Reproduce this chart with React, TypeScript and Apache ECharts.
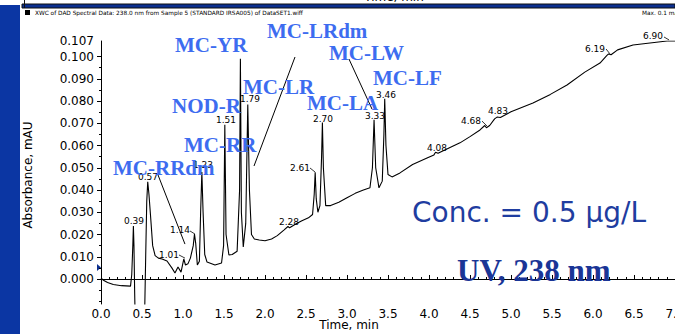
import React, { useEffect, useRef } from 'react';
import * as echarts from 'echarts';

// ---- Data ----
const timeMin = [
  0.0, 0.03, 0.08, 0.15, 0.25, 0.36, 0.375, 0.388, 0.395, 0.402, 0.41, 0.418, 0.53, 0.545, 0.558, 0.57,
  0.585, 0.605, 0.63, 0.66, 0.7, 0.745, 0.805, 0.866, 0.902, 0.939, 0.976, 1.01, 1.03, 1.06, 1.09,
  1.125, 1.14, 1.155, 1.175, 1.2, 1.215, 1.23, 1.245, 1.265, 1.293, 1.39, 1.47, 1.495, 1.51, 1.525,
  1.56, 1.6, 1.66, 1.69, 1.7, 1.712, 1.735, 1.765, 1.79, 1.81, 1.835, 1.87, 1.93, 2.0, 2.08, 2.15,
  2.23, 2.28, 2.3, 2.38, 2.45, 2.53, 2.58, 2.6, 2.612, 2.625, 2.645, 2.67, 2.69, 2.7, 2.712, 2.74,
  2.8, 2.9, 3.0, 3.1, 3.2, 3.28, 3.31, 3.33, 3.35, 3.39, 3.43, 3.45, 3.46, 3.475, 3.5, 3.549, 3.646,
  3.8, 3.976, 4.06, 4.08, 4.11, 4.25, 4.378, 4.5, 4.622, 4.68, 4.7, 4.74, 4.8, 4.83, 4.87, 5.0,
  5.268, 5.48, 5.683, 5.9, 6.085, 6.17, 6.19, 6.22, 6.3, 6.488, 6.695, 6.902, 7.0,
];
const absorbance = [
  0.0005, -0.0006, -0.0016, -0.0025, -0.003, -0.0032, 0.002, 0.015, 0.0238, 0.015, -0.005, -0.02, -0.02,
  0.01, 0.035, 0.0437, 0.038, 0.028, 0.015, 0.0105, 0.0094, 0.009, 0.0081, 0.0049, 0.0027, 0.0054,
  0.0031, 0.009, 0.0063, 0.0068, 0.0094, 0.015, 0.0202, 0.016, 0.0063, 0.008, 0.03, 0.0481, 0.03,
  0.011, 0.0076, 0.0063, 0.0072, 0.015, 0.0694, 0.02, 0.0108, 0.011, 0.0125, 0.04, 0.099, 0.03,
  0.0144, 0.025, 0.0784, 0.04, 0.02, 0.018, 0.0175, 0.0172, 0.018, 0.0195, 0.022, 0.0236, 0.023,
  0.0248, 0.0262, 0.0275, 0.029, 0.038, 0.048, 0.036, 0.03, 0.033, 0.055, 0.0703, 0.05, 0.033,
  0.033, 0.0345, 0.0365, 0.0385, 0.04, 0.041, 0.05, 0.0716, 0.05, 0.041, 0.044, 0.065, 0.081, 0.06,
  0.047, 0.0459, 0.0477, 0.0515, 0.0544, 0.0558, 0.057, 0.0565, 0.059, 0.0612, 0.064, 0.067, 0.069,
  0.068, 0.069, 0.072, 0.0728, 0.0726, 0.0752, 0.0791, 0.083, 0.0872, 0.093, 0.0971, 0.1005, 0.1012,
  0.1008, 0.103, 0.1052, 0.1061, 0.107, 0.107,
];

const yMajorTicks = [0, 0.01, 0.02, 0.03, 0.04, 0.05, 0.06, 0.07, 0.08, 0.09, 0.1];
const yLabelTicks = [0, 0.01, 0.02, 0.03, 0.04, 0.05, 0.06, 0.07, 0.08, 0.09, 0.1, 0.107];
const yMinorTicks = [-0.01, -0.005, 0.005, 0.015, 0.025, 0.035, 0.045, 0.055, 0.065, 0.075, 0.085, 0.095];

const peakLabels = ['0.39', '0.57', '1.01', '1.14', '1.23', '1.51', '1.79', '2.28', '2.61', '2.70', '3.33', '3.46', '4.08', '4.68', '4.83', '6.19', '6.90'];
const peakLabelTime = [0.402, 0.573, 0.829, 0.963, 1.244, 1.524, 1.817, 2.293, 2.427, 2.707, 3.341, 3.476, 4.098, 4.512, 4.841, 6.024, 6.732];
const peakLabelAbs = [0.0261, 0.0459, 0.0108, 0.022, 0.0513, 0.0715, 0.0809, 0.0256, 0.0499, 0.0719, 0.0733, 0.0827, 0.0589, 0.071, 0.0755, 0.1034, 0.1093];

// small connectors beside some peak labels: [t1, v1, t2, v2]
const labelConnectors = [
  [0.951, 0.0108, 1.024, 0.0094],
  [1.085, 0.0216, 1.146, 0.0202],
  [2.549, 0.0499, 2.61, 0.0481],
  [4.646, 0.071, 4.707, 0.0688],
  [6.159, 0.1034, 6.207, 0.1012],
  [6.866, 0.1088, 6.927, 0.1075],
];

const compounds = ['MC-YR', 'MC-LRdm', 'MC-LW', 'MC-LF', 'MC-LR', 'MC-LA', 'NOD-R', 'MC-RR', 'MC-RRdm'];
// leader lines for compound names: [t1, v1, t2, v2]
const compoundLeaders = [
  [0.695, 0.0468, 1.024, 0.0157],
  [2.366, 0.0998, 1.866, 0.0508],
  [3.024, 0.0989, 3.305, 0.0764],
];

// ---- Layout (pixels) ----
const compoundPos = [
  [175, 45], [267, 31], [329, 53], [373, 78], [243, 87], [307, 103], [172, 106], [184, 145], [113, 168],
];

const SANS = 'DejaVu Sans';
const SERIF = 'Liberation Serif';

export default function App() {
  const ref = useRef<HTMLDivElement>(null);

  useEffect(() => {
    if (!ref.current) return;
    const chart = echarts.init(ref.current, undefined, { renderer: 'svg' });
    const yMin = -0.01124;
    const yMax = 0.107;
    chart.setOption({
      animation: false,
      backgroundColor: '#ffffff',
      grid: { left: 101, right: 0, top: 41, bottom: 30, containLabel: false, outerBoundsMode: 'none' },
      xAxis: {
        type: 'value',
        min: 0,
        max: 7,
        interval: 0.5,
        axisLine: { lineStyle: { color: '#000', width: 1 } },
        axisTick: { inside: true, length: 4, lineStyle: { color: '#000' } },
        minorTick: { show: true, splitNumber: 5, length: 2, lineStyle: { color: '#000' } },
        splitLine: { show: false },
        axisLabel: {
          color: '#000',
          fontFamily: SANS,
          fontSize: 12,
          margin: 4,
          showMaxLabel: true,
          showMinLabel: true,
          hideOverlap: false,
          formatter: (v: number) => v.toFixed(1),
        },
      },
      yAxis: [
        {
          type: 'value',
          min: yMin,
          max: yMax,
          position: 'left',
          axisLine: { show: true, lineStyle: { color: '#000', width: 1 } },
          axisTick: { show: true, length: 4, customValues: yMajorTicks, lineStyle: { color: '#000' } },
          splitLine: { show: false },
          axisLabel: {
            color: '#000',
            fontFamily: SANS,
            fontSize: 12,
            margin: 7,
            customValues: yLabelTicks,
            formatter: (v: number) => v.toFixed(3),
          },
        },
        {
          type: 'value',
          min: yMin,
          max: yMax,
          position: 'left',
          offset: 0,
          alignTicks: false,
          axisLine: { show: false },
          axisTick: { show: true, length: 2, customValues: yMinorTicks, lineStyle: { color: '#000' } },
          axisLabel: { show: false },
          splitLine: { show: false },
        },
      ],
      series: [
        {
          type: 'line',
          data: timeMin.map((t, i) => [t, absorbance[i]]),
          showSymbol: false,
          symbol: 'none',
          clip: true,
          lineStyle: { color: '#000', width: 1.1 },
          z: 2,
        },
      ],
    });

    const px = (t: number, v: number) => chart.convertToPixel({ xAxisIndex: 0, yAxisIndex: 0 }, [t, v]) as number[];

    const graphics: any[] = [];
    // slide decorations
    graphics.push({ type: 'rect', shape: { x: 0, y: 5, width: 20, height: 329 }, style: { fill: '#0b36a3' }, z: 0 });
    graphics.push({ type: 'rect', shape: { x: 22, y: 0, width: 653, height: 3.5 }, style: { fill: '#fff' }, z: 0 });
    graphics.push({ type: 'rect', shape: { x: 22, y: 4, width: 653, height: 4 }, style: { fill: '#0b2f8e', stroke: '#111', lineWidth: 1 }, z: 1 });
    graphics.push({ type: 'line', shape: { x1: 24.5, y1: 0, x2: 24.5, y2: 8 }, style: { stroke: '#111', lineWidth: 1 }, z: 1 });
    graphics.push({
      type: 'text', x: 394, y: -3,
      style: { text: 'Time, min', fontFamily: SANS, fontSize: 12, fill: '#000', align: 'center', verticalAlign: 'middle' }, z: 0,
    });
    graphics.push({ type: 'rect', shape: { x: 25, y: 10, width: 5, height: 5 }, style: { fill: '#000' } });
    graphics.push({
      type: 'text', x: 35, y: 13,
      style: { text: 'XWC of DAD Spectral Data: 238.0 nm from Sample 5 (STANDARD IRSA005) of DataSET1.wiff', fontFamily: SANS, fontSize: 5.8, fill: '#000', align: 'left', verticalAlign: 'middle' },
    });
    graphics.push({
      type: 'text', x: 642, y: 13,
      style: { text: 'Max. 0.1 mAU', fontFamily: SANS, fontSize: 5.8, fill: '#000', align: 'left', verticalAlign: 'middle' },
    });
    // axis titles
    graphics.push({
      type: 'text', x: 349, y: 325,
      style: { text: 'Time, min', fontFamily: SANS, fontSize: 12, fill: '#000', align: 'center', verticalAlign: 'middle' },
    });
    graphics.push({
      type: 'text', x: 28, y: 175, rotation: Math.PI / 2,
      style: { text: 'Absorbance, mAU', fontFamily: SANS, fontSize: 12, fill: '#000', align: 'center', verticalAlign: 'middle' },
    });
    // marker on y axis
    graphics.push({ type: 'polygon', shape: { points: [[97, 264], [101, 267.5], [97, 271]] }, style: { fill: '#0b2f8e' } });

    // peak labels
    peakLabels.forEach((txt, i) => {
      const p = px(peakLabelTime[i], peakLabelAbs[i]);
      graphics.push({
        type: 'text', x: p[0], y: p[1], z: 5,
        style: { text: txt, fontFamily: SANS, fontSize: 9, fill: '#000', align: 'center', verticalAlign: 'middle' },
      });
    });
    labelConnectors.forEach((c) => {
      const a = px(c[0], c[1]);
      const b = px(c[2], c[3]);
      graphics.push({ type: 'line', z: 5, shape: { x1: a[0], y1: a[1], x2: b[0], y2: b[1] }, style: { stroke: '#000', lineWidth: 0.8 } });
    });
    compoundLeaders.forEach((c) => {
      const a = px(c[0], c[1]);
      const b = px(c[2], c[3]);
      graphics.push({ type: 'line', z: 5, shape: { x1: a[0], y1: a[1], x2: b[0], y2: b[1] }, style: { stroke: '#000', lineWidth: 1 } });
    });
    // compound names
    compounds.forEach((name, i) => {
      graphics.push({
        type: 'text', x: compoundPos[i][0], y: compoundPos[i][1], z: 10,
        style: { text: name, fontFamily: SERIF, fontWeight: 'bold', fontSize: 21, fill: '#3d6cf0', align: 'left', verticalAlign: 'middle' },
      });
    });
    graphics.push({
      type: 'text', x: 412, y: 212, z: 10,
      style: { text: 'Conc. = 0.5 \u03bcg/L', fontFamily: SANS, fontSize: 28, fill: '#1f3da0', align: 'left', verticalAlign: 'middle' },
    });
    graphics.push({
      type: 'text', x: 457, y: 270, z: 10,
      style: { text: 'UV, 238 nm', fontFamily: SERIF, fontWeight: 'bold', fontSize: 31, fill: '#1a3596', align: 'left', verticalAlign: 'middle' },
    });

    chart.setOption({ graphic: graphics });

    return () => {
      chart.dispose();
    };
  }, []);

  return (
    <div
      ref={ref}
      style={{ position: 'fixed', left: 0, top: 0, width: 675, height: 334, background: '#fff' }}
    />
  );
}
